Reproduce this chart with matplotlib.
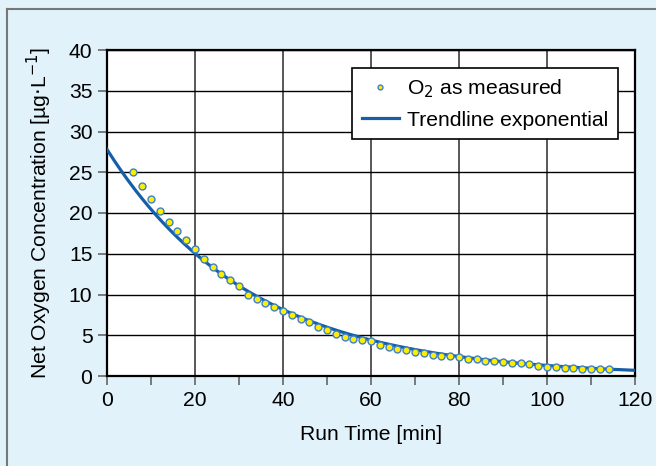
import matplotlib.pyplot as plt
import numpy as np
from matplotlib.lines import Line2D

plt.rcParams['font.family'] = ['Liberation Sans', 'DejaVu Sans']

# measured O2 values, every 2 min
run_time = np.arange(6, 116, 2)
o2_measured = [25.0, 23.3, 21.7, 20.2, 18.9, 17.8, 16.7, 15.6, 14.4, 13.4,
               12.5, 11.8, 11.0, 10.0, 9.5, 9.0, 8.5, 8.0, 7.5, 7.0,
               6.6, 6.0, 5.6, 5.15, 4.8, 4.6, 4.4, 4.25, 3.8, 3.6,
               3.35, 3.2, 3.0, 2.8, 2.6, 2.4, 2.45, 2.3, 2.1, 2.05,
               1.9, 1.85, 1.7, 1.6, 1.55, 1.5, 1.25, 1.15, 1.05, 1.0,
               0.95, 0.9, 0.8, 0.8, 0.8]

# exponential trendline y = a * exp(-k t)
trend_a = 27.8
trend_k = 0.0307

bg = '#e1f2fa'
blue = '#165fa8'
fs = 15.2

fig = plt.figure(figsize=(6.56, 4.66), dpi=100, facecolor=bg)
ax = fig.add_axes([107/656, 1 - 376/466, (635 - 107)/656, (376 - 50)/466])

# frame lines of the panel (top and left)
fig.add_artist(Line2D([7/656, 1], [1 - 9/466, 1 - 9/466], color='#777777', lw=1.5))
fig.add_artist(Line2D([7/656, 7/656], [0, 1 - 9/466], color='#777777', lw=1.5))

t = np.linspace(0, 120, 300)
ax.plot(t, trend_a * np.exp(-trend_k * t), color=blue, lw=2.3, zorder=3,
        label='Trendline exponential')
ax.plot(run_time, o2_measured, 'o', ms=5, mfc='#ffec00', mec='#3d82c4', mew=1.0,
        zorder=4, label='O$_2$ as measured')

ax.set_xlim(0, 120)
ax.set_ylim(0, 40)
ax.set_xticks(np.arange(0, 121, 20))
ax.set_xticks(np.arange(10, 120, 20), minor=True)
ax.set_yticks(np.arange(0, 41, 5))

ax.grid(axis='y', color='black', lw=1.0)
ax.grid(axis='x', which='major', color='#4a4a4a', lw=1.3)
ax.set_axisbelow(True)

for s in ax.spines.values():
    s.set_linewidth(1.6)
    s.set_color('black')

ax.tick_params(axis='both', which='both', direction='out', length=6.5, width=1.2,
               color='#666666', labelsize=fs, pad=4)

ax.set_xlabel('Run Time [min]', fontsize=fs)
ax.set_ylabel('Net Oxygen Concentration [µg$\\cdot$L$^{-1}$]', fontsize=fs)
ax.xaxis.set_label_coords(0.5, -0.15)
ax.yaxis.set_label_coords(-0.1, 0.5)

h, l = ax.get_legend_handles_labels()
leg = ax.legend(h[::-1], l[::-1], loc='upper right', bbox_to_anchor=(0.968, 0.945),
                fontsize=fs, frameon=True, fancybox=False, edgecolor='black',
                framealpha=1, markerscale=0.7, handlelength=1.75, handletextpad=0.4,
                borderpad=0.45, labelspacing=0.5, borderaxespad=0)
leg.get_frame().set_linewidth(1.2)

fig.savefig('out.png', dpi=100, facecolor=bg)
